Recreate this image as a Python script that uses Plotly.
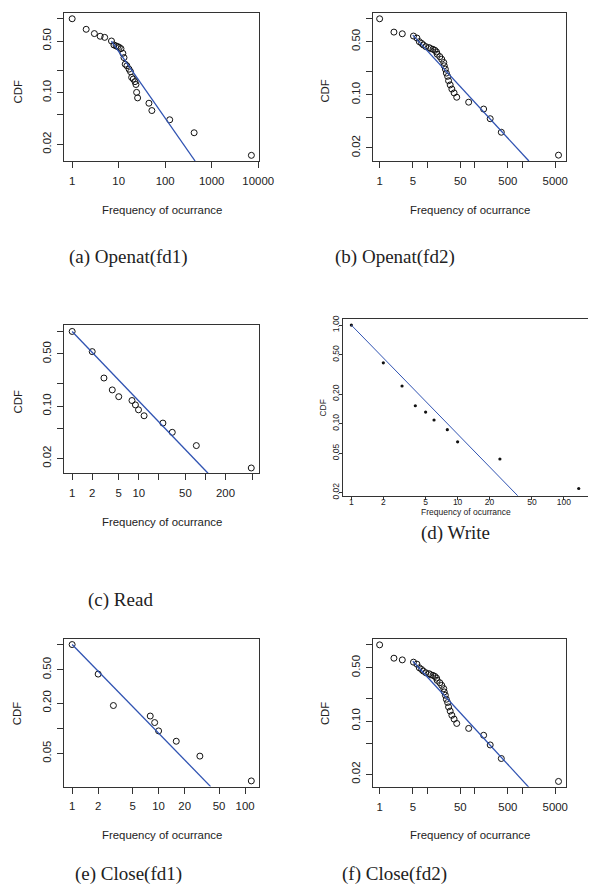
import plotly.graph_objects as go

W, H = 603, 896

# ---------------- data ----------------
a_x = [1, 2, 3, 4, 5, 7, 7.9, 8.8, 9.5, 10.3, 11.2, 12.3, 13, 13.8, 15, 16.7, 18, 19,
       20.6, 22.4, 23.5, 24.3, 25.5, 44.7, 51.7, 125, 419, 7130]
a_y = [1.0, 0.72, 0.63, 0.58, 0.56, 0.50, 0.442, 0.429, 0.42, 0.41, 0.394, 0.341, 0.298,
       0.243, 0.231, 0.208, 0.192, 0.161, 0.153, 0.141, 0.129, 0.101, 0.085, 0.072, 0.0573,
       0.043, 0.0287, 0.0142]
a_fit_x = [7, 440]
a_fit_y = [0.5, 0.0119]

b_x = [1, 2, 3, 5.16, 6.1, 6.85, 7.65, 8.3, 9.4, 11, 11.9, 13.3, 14.6, 15.8, 16.3, 18.5,
       20.3, 22.4, 23, 24.2, 25.4, 27, 28.3, 30.6, 33.2, 37, 42, 75, 155, 213, 365, 5850]
b_y = [1.0, 0.668, 0.635, 0.593, 0.558, 0.5, 0.475, 0.453, 0.43, 0.418, 0.405, 0.397,
       0.385, 0.366, 0.342, 0.318, 0.294, 0.266, 0.241, 0.218, 0.193, 0.175, 0.153, 0.135,
       0.119, 0.106, 0.093, 0.080, 0.065, 0.0485, 0.0322, 0.0161]
b_fit_x = [5, 1393]
b_fit_y = [0.61, 0.01346]

c_x = [1, 2, 3, 4, 5, 7.9, 8.9, 9.9, 12, 23, 31.8, 73, 487]
c_y = [1.0, 0.537, 0.238, 0.165, 0.134, 0.119, 0.104, 0.0894, 0.0744, 0.0594, 0.0447,
       0.0297, 0.0149]
c_fit_x = [1, 109.4]
c_fit_y = [1.0, 0.01265]

d_x = [1, 2, 3, 4, 5, 6, 8, 10, 25, 138]
d_y = [1.0, 0.414, 0.241, 0.152, 0.131, 0.109, 0.087, 0.0654, 0.0438, 0.022]
d_fit_x = [1, 36.9]
d_fit_y = [1.0, 0.0185]

e_x = [1, 2, 3, 8, 9, 10, 16, 30, 118]
e_y = [1.0, 0.444, 0.187, 0.140, 0.117, 0.093, 0.070, 0.0465, 0.0235]
e_fit_x = [1, 40]
e_fit_y = [1.0, 0.0201]

f_x = [1, 2, 3, 5.16, 6.1, 6.85, 7.65, 8.3, 9.4, 11, 11.9, 13.3, 14.6, 15.8, 16.3, 18.5,
       20.3, 22.4, 23, 24.2, 25.4, 27, 28.3, 30.6, 33.2, 37, 42, 75, 155, 213, 365, 5850]
f_y = [1.0, 0.668, 0.635, 0.593, 0.558, 0.5, 0.475, 0.453, 0.43, 0.418, 0.405, 0.397,
       0.385, 0.366, 0.342, 0.318, 0.294, 0.266, 0.241, 0.218, 0.193, 0.175, 0.153, 0.135,
       0.119, 0.106, 0.093, 0.080, 0.065, 0.0485, 0.0322, 0.0161]
f_fit_x = [5, 1393]
f_fit_y = [0.61, 0.01346]

# tick values / labels
yt_std = [1, 0.5, 0.2, 0.1, 0.05, 0.02]
yl_std = ["", "0.50", "", "0.10", "", "0.02"]
xt_a = [1, 10, 100, 1000, 10000]
xl_a = ["1", "10", "100", "1000", "10000"]
xt_b = [1, 5, 10, 50, 100, 500, 1000, 5000]
xl_b = ["1", "5", "", "50", "", "500", "", "5000"]
xt_c = [1, 2, 5, 10, 20, 50, 100, 200, 500]
xl_c = ["1", "2", "5", "10", "", "50", "", "200", ""]
xt_d = [1, 2, 5, 10, 20, 50, 100]
xl_d = ["1", "2", "5", "10", "20", "50", "100"]
yt_d = [1, 0.5, 0.2, 0.1, 0.05, 0.02]
yl_d = ["1.00", "0.50", "0.20", "0.10", "0.05", "0.02"]
xt_e = [1, 2, 5, 10, 20, 50, 100]
xl_e = ["1", "2", "5", "10", "20", "50", "100"]
yt_e = [1, 0.5, 0.2, 0.1, 0.05]
yl_e = ["", "0.50", "0.20", "", "0.05"]

captions = ["(a) Openat(fd1)", "(b) Openat(fd2)", "(c) Read", "(d) Write",
            "(e) Close(fd1)", "(f) Close(fd2)"]
x_title = "Frequency of ocurrance"
y_title = "CDF"

# ---------------- layout (pixel geometry) ----------------
SANS = "Liberation Sans, Arial, sans-serif"
SERIF = "Liberation Serif, Times New Roman, serif"
INK = "#222222"
BOX = "#333333"
BLUE = "#3053B2"

panels = [
    dict(x=a_x, y=a_y, fx=a_fit_x, fy=a_fit_y, box=(66, 266, 10, 159.3),
         xr=[-0.168, 4.025], yr=[-1.925, 0.079], xt=xt_a, xl=xl_a, yt=yt_std, yl=yl_std,
         cap=(132, 256), xtit=(166, 209), ytit=(18.3, 89.3), style="r"),
    dict(x=b_x, y=b_y, fx=b_fit_x, fy=b_fit_y, box=(382.7, 580, 10, 159.3),
         xr=[-0.136, 3.916], yr=[-1.871, 0.077], xt=xt_b, xl=xl_b, yt=yt_std, yl=yl_std,
         cap=(405, 256), xtit=(481.5, 209), ytit=(333.3, 89.3), style="r"),
    dict(x=c_x, y=c_y, fx=c_fit_x, fy=c_fit_y, box=(66, 265.7, 325, 474),
         xr=[-0.117, 2.805], yr=[-1.898, 0.080], xt=xt_c, xl=xl_c, yt=yt_std, yl=yl_std,
         cap=(124, 602), xtit=(166, 522.7), ytit=(18.3, 401.7), style="r"),
    dict(x=d_x, y=d_y, fx=d_fit_x, fy=d_fit_y, box=(351.7, 603, 318.3, 496.7),
         xr=[-0.079, 2.227], yr=[-1.732, 0.064], xt=xt_d, xl=xl_d, yt=yt_d, yl=yl_d,
         cap=(467, 534), xtit=(477.5, 513.3), ytit=(331.7, 408.3), style="d"),
    dict(x=e_x, y=e_y, fx=e_fit_x, fy=e_fit_y, box=(66, 265.7, 641.3, 789.7),
         xr=[-0.090, 2.162], yr=[-1.696, 0.063], xt=xt_e, xl=xl_e, yt=yt_e, yl=yl_e,
         cap=(132, 878), xtit=(166, 839), ytit=(18.3, 716), style="r"),
    dict(x=f_x, y=f_y, fx=f_fit_x, fy=f_fit_y, box=(382.7, 580, 641, 790),
         xr=[-0.136, 3.916], yr=[-1.864, 0.077], xt=xt_b, xl=xl_b, yt=yt_std, yl=yl_std,
         cap=(405, 878), xtit=(481.5, 839), ytit=(333.3, 716.7), style="r"),
]

fig = go.Figure()
annotations = []
layout_axes = {}

for i, p in enumerate(panels, start=1):
    sfx = "" if i == 1 else str(i)
    xa, ya = "x" + sfx, "y" + sfx
    l, r, t, b = p["box"]
    is_d = p["style"] == "d"
    fs = 8.5 if is_d else 11.4

    if is_d:
        mk = dict(symbol="circle", size=3.2, color="#111111")
    else:
        mk = dict(symbol="circle-open", size=6, color="#111111", line=dict(width=1, color="#111111"))

    fig.add_trace(go.Scatter(x=p["x"], y=p["y"], mode="markers", marker=mk,
                             xaxis=xa, yaxis=ya, showlegend=False, hoverinfo="skip"))
    fig.add_trace(go.Scatter(x=p["fx"], y=p["fy"], mode="lines",
                             line=dict(color=BLUE, width=1.0 if is_d else 1.3),
                             xaxis=xa, yaxis=ya, showlegend=False, hoverinfo="skip"))

    common = dict(type="log", showgrid=False, zeroline=False, showline=True,
                  linecolor=BOX, linewidth=1, ticks="outside",
                  ticklen=3 if is_d else 6, tickwidth=1, tickcolor=BOX,
                  tickfont=dict(family=SANS, size=fs, color=INK), fixedrange=True)

    layout_axes["xaxis" + sfx] = dict(
        common, domain=[l / W, min(r / W, 1.0)], range=p["xr"], anchor=ya,
        tickmode="array", tickvals=p["xt"], ticktext=p["xl"], mirror=True,
        ticklabelstandoff=-5 if is_d else 3)
    layout_axes["yaxis" + sfx] = dict(
        common, domain=[1 - b / H, 1 - t / H], range=p["yr"], anchor=xa,
        tickmode="array", tickvals=p["yt"], ticktext=p["yl"], tickangle=-90,
        mirror=not is_d, ticklabelstandoff=-3 if is_d else 2)

    cx, cy = p["cap"]
    annotations.append(dict(text=captions[i - 1], x=cx / W, y=1 - cy / H, xref="paper",
                            yref="paper", showarrow=False, xanchor="center", yanchor="middle",
                            font=dict(family=SERIF, size=19, color=INK)))
    tx, ty = p["xtit"]
    annotations.append(dict(text=x_title, x=tx / W, y=1 - ty / H, xref="paper", yref="paper",
                            showarrow=False, xanchor="center", yanchor="middle",
                            font=dict(family=SANS, size=fs, color=INK)))
    yx, yy = p["ytit"]
    annotations.append(dict(text=y_title, x=yx / W, y=1 - yy / H, xref="paper", yref="paper",
                            showarrow=False, xanchor="center", yanchor="middle", textangle=-90,
                            font=dict(family=SANS, size=fs, color=INK)))

fig.update_layout(width=W, height=H, autosize=False,
                  margin=dict(l=0, r=0, t=0, b=0, pad=0),
                  paper_bgcolor="white", plot_bgcolor="white",
                  annotations=annotations, **layout_axes)

fig.write_html("out.html", config={"displayModeBar": False},
               post_script="document.body.style.margin='0';document.body.style.overflow='hidden';")
